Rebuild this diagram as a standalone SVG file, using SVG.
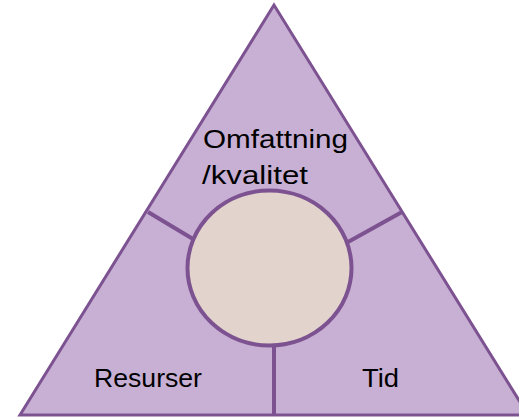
<svg xmlns="http://www.w3.org/2000/svg" width="519" height="418" viewBox="0 0 519 418">
<style>
.shape{fill:#C8B0D4;stroke:#7D5291;stroke-width:3;stroke-linejoin:miter}
.hub{fill:#E2D4CC;stroke:#7D5291;stroke-width:4}
.spoke{stroke:#7D5291;stroke-width:4;fill:none}
.lbl{font-family:"Liberation Sans",Arial,sans-serif;font-size:26px;fill:#000}
</style>
<rect width="519" height="418" fill="#fff"/>
<g id="triangle">
<polygon class="shape" points="274,5 20,415 528,415"/>
</g>
<g id="connectors">
<line class="spoke" x1="148" y1="212" x2="193" y2="239"/>
<line class="spoke" x1="348" y1="242" x2="402" y2="212"/>
<line class="spoke" x1="274" y1="345" x2="274" y2="415"/>
</g>
<g id="hub">
<ellipse class="hub" cx="269.5" cy="268" rx="82" ry="77.5"/>
</g>
<g id="omfattning">
<text class="lbl" x="203" y="148" textLength="145" lengthAdjust="spacingAndGlyphs">Omfattning</text>
<text class="lbl" x="202" y="184" textLength="106" lengthAdjust="spacingAndGlyphs">/kvalitet</text>
</g>
<g id="resurser">
<text class="lbl" x="94" y="387" textLength="108" lengthAdjust="spacingAndGlyphs">Resurser</text>
</g>
<g id="tid">
<text class="lbl" x="362" y="387" textLength="37" lengthAdjust="spacingAndGlyphs">Tid</text>
</g>
</svg>
